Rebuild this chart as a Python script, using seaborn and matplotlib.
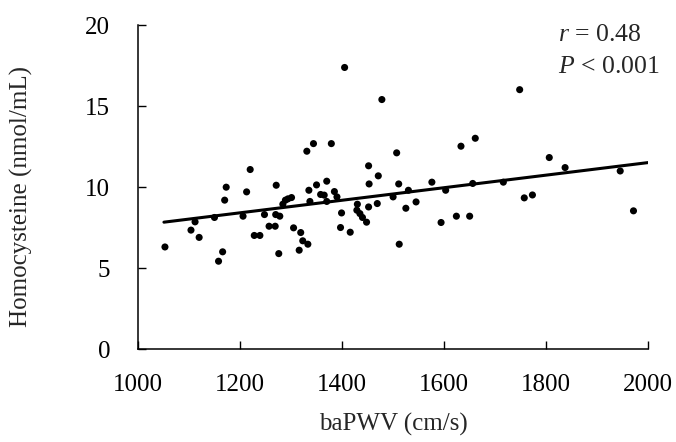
"""
Scatter of homocysteine vs baPWV with linear fit.
"""

import matplotlib
matplotlib.use("Agg")
import matplotlib.pyplot as plt
import seaborn as sns
import pandas as pd

# baPWV (cm/s)
bapwv = [
    1053, 1104, 1112, 1120, 1150, 1158, 1166, 1170, 1173, 1206,
    1213, 1220, 1228, 1239, 1248, 1257, 1269, 1271, 1270, 1278,
    1276, 1284, 1289, 1294, 1301, 1305, 1319, 1323, 1316, 1333,
    1331, 1344, 1335, 1337, 1350, 1358, 1365, 1370, 1370, 1379,
    1385, 1390, 1405, 1399, 1397, 1416, 1430, 1429, 1435, 1440,
    1448, 1452, 1452, 1453, 1469, 1471, 1478, 1500, 1507, 1511,
    1512, 1525, 1530, 1545, 1576, 1594, 1603, 1624, 1633, 1650,
    1656, 1661, 1716, 1748, 1757, 1773, 1806, 1837, 1945, 1971,
]
# Homocysteine (nmol/mL)
hcy = [
    6.31, 7.35, 7.86, 6.90, 8.13, 5.43, 6.01, 9.20, 10.00, 8.21,
    9.71, 11.09, 7.02, 7.02, 8.31, 7.59, 7.59, 10.12, 8.31, 8.21,
    5.90, 8.95, 9.20, 9.28, 9.36, 7.49, 7.20, 6.69, 6.11, 6.48,
    12.22, 12.69, 9.81, 9.12, 10.14, 9.55, 9.51, 10.37, 9.12, 12.69,
    9.73, 9.40, 17.39, 8.41, 7.51, 7.22, 8.95, 8.58, 8.37, 8.13,
    7.84, 8.78, 11.32, 10.20, 8.99, 10.70, 15.41, 9.40, 12.12, 10.20,
    6.48, 8.70, 9.81, 9.09, 10.31, 7.82, 9.81, 8.21, 12.53, 8.21,
    10.23, 13.02, 10.31, 16.02, 9.34, 9.52, 11.83, 11.21, 11.00, 8.54,
]

# regression line as drawn in the figure (ends)
fit_x = [1051, 2000]
fit_y = [7.84, 11.52]

r_text = "0.48"
p_text = "0.001"
x_ticks = [1000, 1200, 1400, 1600, 1800, 2000]
y_ticks = [0, 5, 10, 15, 20]

sns.set_theme(style="ticks")
plt.rcParams["font.family"] = ["Liberation Serif", "DejaVu Serif"]
plt.rcParams["mathtext.fontset"] = "custom"
plt.rcParams["mathtext.it"] = "Liberation Serif:italic"
plt.rcParams["mathtext.rm"] = "Liberation Serif"

df = pd.DataFrame({"baPWV": bapwv, "Hcy": hcy})

fig = plt.figure(figsize=(6.76, 4.42), dpi=100)
ax = fig.add_axes([0.204, 0.210, 0.755, 0.733])

sns.scatterplot(data=df, x="baPWV", y="Hcy", color="black", s=26,
                edgecolor="none", ax=ax, zorder=3)
sns.lineplot(x=fit_x, y=fit_y, color="black", linewidth=2.2, ax=ax, zorder=2)

ax.set_xlim(1000, 2000)
ax.set_ylim(0, 20)
ax.set_xticks(x_ticks)
ax.set_yticks(y_ticks)
ax.tick_params(direction="in", length=6, width=1, colors="black",
               labelsize=18)
ax.tick_params(axis="y", pad=20)
ax.tick_params(axis="x", pad=18)
for side in ["top", "right"]:
    ax.spines[side].set_visible(False)
for side in ["left", "bottom"]:
    ax.spines[side].set_color("black")
    ax.spines[side].set_linewidth(1.1)

ax.set_xlabel("baPWV (cm/s)", fontsize=18, labelpad=12)
ax.set_ylabel("Homocysteine (nmol/mL)", fontsize=18)
ax.yaxis.set_label_coords(-0.206, 0.47)

ax.text(0.824, 1.005, rf"$r$ = {r_text}", transform=ax.transAxes,
        fontsize=18.5, ha="left", va="top")
ax.text(0.824, 0.905, rf"$P$ < {p_text}", transform=ax.transAxes,
        fontsize=18.5, ha="left", va="top")

fig.savefig("out.png", dpi=100)
